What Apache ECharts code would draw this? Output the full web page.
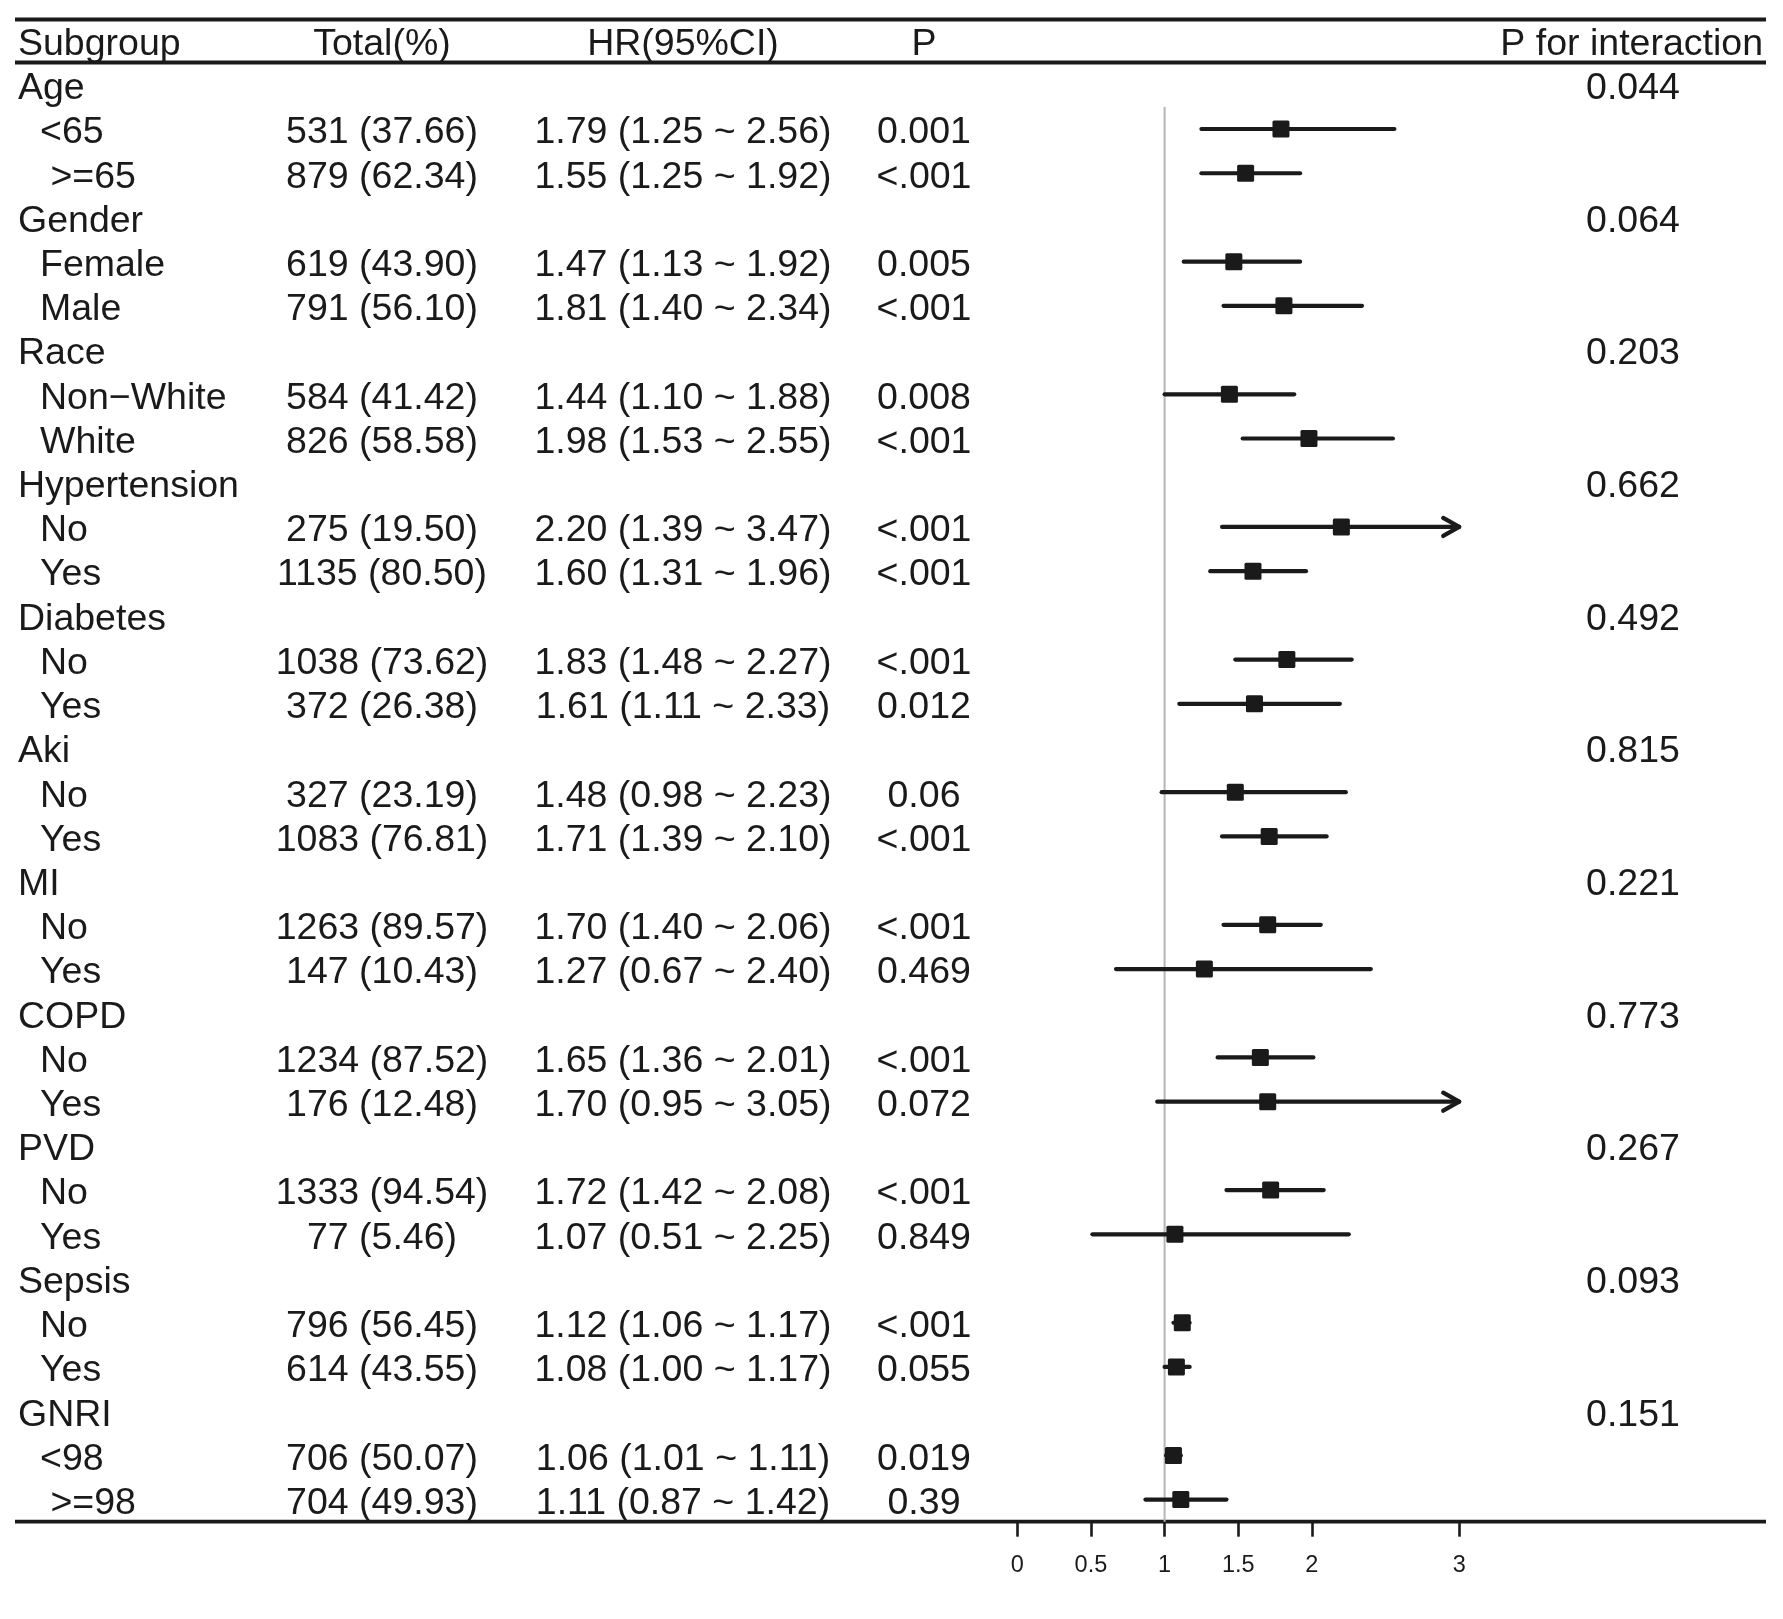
<!DOCTYPE html>
<html>
<head>
<meta charset="utf-8">
<script src="https://cdn.jsdelivr.net/npm/echarts@6/dist/echarts.min.js"></script>
<style>
html,body{margin:0;padding:0;background:#ffffff;}
#chart{width:1783px;height:1619px;}
</style>
</head>
<body>
<div id="chart"></div>
<script>
// ---------------- DATA ----------------
const subgroups = ['Age','<65',' >=65','Gender','Female','Male','Race','Non\u2212White','White',
  'Hypertension','No','Yes','Diabetes','No','Yes','Aki','No','Yes','MI','No','Yes',
  'COPD','No','Yes','PVD','No','Yes','Sepsis','No','Yes','GNRI','<98',' >=98'];

const totals = ['','531 (37.66)','879 (62.34)','','619 (43.90)','791 (56.10)','','584 (41.42)','826 (58.58)',
  '','275 (19.50)','1135 (80.50)','','1038 (73.62)','372 (26.38)','','327 (23.19)','1083 (76.81)',
  '','1263 (89.57)','147 (10.43)','','1234 (87.52)','176 (12.48)','','1333 (94.54)','77 (5.46)',
  '','796 (56.45)','614 (43.55)','','706 (50.07)','704 (49.93)'];

const hrText = ['','1.79 (1.25 ~ 2.56)','1.55 (1.25 ~ 1.92)','','1.47 (1.13 ~ 1.92)','1.81 (1.40 ~ 2.34)',
  '','1.44 (1.10 ~ 1.88)','1.98 (1.53 ~ 2.55)','','2.20 (1.39 ~ 3.47)','1.60 (1.31 ~ 1.96)',
  '','1.83 (1.48 ~ 2.27)','1.61 (1.11 ~ 2.33)','','1.48 (0.98 ~ 2.23)','1.71 (1.39 ~ 2.10)',
  '','1.70 (1.40 ~ 2.06)','1.27 (0.67 ~ 2.40)','','1.65 (1.36 ~ 2.01)','1.70 (0.95 ~ 3.05)',
  '','1.72 (1.42 ~ 2.08)','1.07 (0.51 ~ 2.25)','','1.12 (1.06 ~ 1.17)','1.08 (1.00 ~ 1.17)',
  '','1.06 (1.01 ~ 1.11)','1.11 (0.87 ~ 1.42)'];

const pValues = ['','0.001','<.001','','0.005','<.001','','0.008','<.001','','<.001','<.001',
  '','<.001','0.012','','0.06','<.001','','<.001','0.469','','<.001','0.072','','<.001','0.849',
  '','<.001','0.055','','0.019','0.39'];

const pInteraction = ['0.044','','','0.064','','','0.203','','','0.662','','','0.492','','',
  '0.815','','','0.221','','','0.773','','','0.267','','','0.093','','','0.151','',''];

// plotted estimates and interval ends
const hr    = [null,1.79,1.55,null,1.47,1.81,null,1.44,1.98,null,2.20,1.60,null,1.83,1.61,null,1.48,1.71,
  null,1.70,1.27,null,1.65,1.70,null,1.72,1.07,null,1.12,1.08,null,1.06,1.11];
const lower = [null,1.25,1.25,null,1.13,1.40,null,1.00,1.53,null,1.39,1.31,null,1.48,1.10,null,0.98,1.39,
  null,1.40,0.67,null,1.36,0.95,null,1.42,0.51,null,1.06,1.00,null,1.01,0.87];
const upper = [null,2.56,1.92,null,1.92,2.34,null,1.88,2.55,null,3.47,1.96,null,2.27,2.19,null,2.23,2.10,
  null,2.06,2.40,null,2.01,3.05,null,2.08,2.25,null,1.17,1.17,null,1.11,1.42];

const xTicks = [0, 0.5, 1, 1.5, 2, 3];
const headers = ['Subgroup','Total(%)','HR(95%CI)','P','P for interaction'];

// ---------------- LAYOUT ----------------
const FONT_FAMILY = '"Liberation Sans", Arial, Helvetica, sans-serif';
const FS = 37.5;
const INK = '#1a1a1a';
const FONT = FS + 'px ' + FONT_FAMILY;
const COL = {sub0: 18, sub1: 40, total: 382, hr: 683, p: 924, pint: 1633, pintHeadRight: 1763};
const TEXT_DY = 4;
const X_MIN = 0, X_MAX = 3;
const GRID = {left: 1017.3, top: 62.7, width: 441.9, height: 1459};
const RULE_L = 15, RULE_R = 1766;
const LW = 4.2, SQ = 17;

const rowIdx = subgroups.map((_, i) => i);

const textData = rowIdx.map(i => [0, i]);
const markData = rowIdx.filter(i => hr[i] != null).map(i => [hr[i], i, lower[i], upper[i]]);

function txt(text, x, y, align) {
  return {type: 'text', style: {text: text, x: x, y: y, align: align, verticalAlign: 'middle',
    font: FONT, fill: INK}};
}

const option = {
  backgroundColor: '#ffffff',
  animation: false,
  grid: {left: GRID.left, top: GRID.top, width: GRID.width, height: GRID.height, containLabel: false},
  xAxis: {
    type: 'value', min: X_MIN, max: X_MAX,
    axisLine: {show: false},
    splitLine: {show: false},
    axisTick: {show: true, customValues: xTicks, length: 15, lineStyle: {color: INK, width: 2.6}},
    axisLabel: {customValues: xTicks, fontSize: 23.5, fontFamily: FONT_FAMILY, color: INK, margin: 32}
  },
  yAxis: {
    type: 'category', inverse: true, data: subgroups,
    axisLine: {show: false}, axisTick: {show: false}, axisLabel: {show: false}, splitLine: {show: false}
  },
  series: [
    {
      // reference line at HR = 1
      type: 'custom', clip: false, z: 1,
      data: [[1, 1]],
      encode: {x: 0, y: 1},
      renderItem: function (params, api) {
        const band = api.size([0, 1])[1];
        const top = api.coord([1, 1]);
        const bot = api.coord([1, subgroups.length - 1]);
        return {type: 'line', shape: {x1: top[0], y1: top[1] - band / 2, x2: top[0], y2: bot[1] + band / 2},
          style: {stroke: '#b5b5b5', lineWidth: 2}};
      }
    },
    {
      // confidence intervals and estimates
      type: 'custom', clip: false, z: 3,
      data: markData,
      encode: {x: 0, y: 1},
      renderItem: function (params, api) {
        const est = api.value(0), i = api.value(1), lo = api.value(2), hi = api.value(3);
        const capped = hi > X_MAX;
        const p0 = api.coord([lo, i]);
        const p1 = api.coord([Math.min(hi, X_MAX), i]);
        const pc = api.coord([est, i]);
        const children = [
          {type: 'line', shape: {x1: p0[0], y1: p0[1], x2: p1[0], y2: p1[1]},
            style: {stroke: INK, lineWidth: LW, lineCap: 'round'}}
        ];
        if (capped) {
          children.push({type: 'polyline',
            shape: {points: [[p1[0] - 16, p1[1] - 9], [p1[0], p1[1]], [p1[0] - 16, p1[1] + 9]]},
            style: {stroke: INK, lineWidth: LW, lineCap: 'round', lineJoin: 'round', fill: null}});
        }
        children.push({type: 'rect', shape: {x: pc[0] - SQ / 2, y: pc[1] - SQ / 2, width: SQ, height: SQ, r: 1.5},
          style: {fill: INK}});
        return {type: 'group', children: children};
      }
    },
    {
      // table text
      type: 'custom', clip: false, z: 2,
      data: textData,
      encode: {x: 0, y: 1},
      renderItem: function (params, api) {
        const i = api.value(1);
        const y = api.coord([0, i])[1] + TEXT_DY;
        const isGroup = totals[i] === '';
        const children = [txt(subgroups[i], isGroup ? COL.sub0 : COL.sub1, y, 'left')];
        if (totals[i]) children.push(txt(totals[i], COL.total, y, 'center'));
        if (hrText[i]) children.push(txt(hrText[i], COL.hr, y, 'center'));
        if (pValues[i]) children.push(txt(pValues[i], COL.p, y, 'center'));
        if (pInteraction[i]) children.push(txt(pInteraction[i], COL.pint, y, 'center'));
        return {type: 'group', children: children};
      }
    }
  ],
  graphic: [
    {type: 'line', shape: {x1: RULE_L, y1: 19.5, x2: RULE_R, y2: 19.5}, style: {stroke: INK, lineWidth: 4}},
    {type: 'line', shape: {x1: RULE_L, y1: 62.5, x2: RULE_R, y2: 62.5}, style: {stroke: INK, lineWidth: 4}},
    {type: 'line', shape: {x1: RULE_L, y1: 1521.7, x2: RULE_R, y2: 1521.7}, style: {stroke: INK, lineWidth: 3.8}},
    {type: 'text', x: COL.sub0, y: 41 + TEXT_DY, style: {text: headers[0], align: 'left', verticalAlign: 'middle', font: FONT, fill: INK}},
    {type: 'text', x: COL.total, y: 41 + TEXT_DY, style: {text: headers[1], align: 'center', verticalAlign: 'middle', font: FONT, fill: INK}},
    {type: 'text', x: COL.hr, y: 41 + TEXT_DY, style: {text: headers[2], align: 'center', verticalAlign: 'middle', font: FONT, fill: INK}},
    {type: 'text', x: COL.p, y: 41 + TEXT_DY, style: {text: headers[3], align: 'center', verticalAlign: 'middle', font: FONT, fill: INK}},
    {type: 'text', x: COL.pintHeadRight, y: 41 + TEXT_DY, style: {text: headers[4], align: 'right', verticalAlign: 'middle', font: FONT, fill: INK}}
  ]
};

const chart = echarts.init(document.getElementById('chart'));
chart.setOption(option);
</script>
</body>
</html>
